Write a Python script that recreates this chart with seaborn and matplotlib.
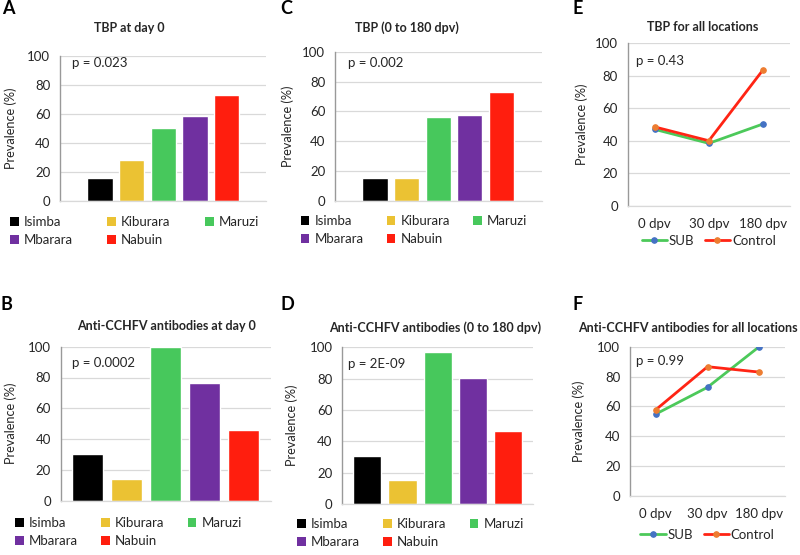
import matplotlib
matplotlib.use("Agg")
import matplotlib.pyplot as plt
from matplotlib.patches import Patch
import seaborn as sns
import pandas as pd

# =========================
# DATA
# =========================
LOCATIONS = ["Isimba", "Kiburara", "Maruzi", "Mbarara", "Nabuin"]
LOC_COLORS = ["#000000", "#EBC233", "#47C85C", "#7030A0", "#FF1E0E"]

tbp_day0 = [15.5, 28.3, 50.0, 58.5, 73.3]
tbp_0_180 = [15.5, 15.5, 56.3, 57.6, 73.3]
cchfv_day0 = [30.5, 14.1, 100.0, 76.2, 45.9]
cchfv_0_180 = [30.8, 15.3, 97.2, 80.2, 46.4]

TIMEPOINTS = ["0 dpv", "30 dpv", "180 dpv"]
tbp_sub = [47.0, 38.4, 50.3]
tbp_control = [48.5, 40.0, 83.6]
cchfv_sub = [54.9, 72.8, 100.0]
cchfv_control = [57.8, 86.6, 83.0]

Y_TICKS = [0, 20, 40, 60, 80, 100]

# =========================
# STYLE
# =========================
sns.set_style("white")
plt.rcParams["font.family"] = ["Lato", "DejaVu Sans"]
TXT = "#262626"
GRID = "#d9d9d9"
FS = 9.5

W, H = 800, 555
fig = plt.figure(figsize=(W / 100, H / 100), dpi=100)


def px_axes(left, right, top, bottom):
    return fig.add_axes([left / W, 1 - bottom / H, (right - left) / W, (bottom - top) / H])


def ftext(x, y, s, **kw):
    fig.text(x / W, 1 - y / H, s, color=TXT, **kw)


def style_axis(ax, ylabel_x, left):
    ax.set_ylim(0, 100)
    ax.set_yticks(Y_TICKS)
    ax.yaxis.grid(True, color=GRID, lw=0.9)
    ax.xaxis.grid(False)
    ax.set_axisbelow(True)
    for s in ["top", "right"]:
        ax.spines[s].set_visible(False)
    ax.spines["left"].set_color("#999999")
    ax.spines["left"].set_linewidth(1.0)
    ax.spines["bottom"].set_color(GRID)
    ax.spines["bottom"].set_linewidth(0.9)
    ax.tick_params(axis="y", length=0, pad=7, labelsize=FS, labelcolor=TXT)
    ax.tick_params(axis="x", length=0, labelsize=FS, labelcolor=TXT)
    ax.set_ylabel("Prevalence (%)", fontsize=9.2, color=TXT)
    bbox = ax.get_position()
    ax.yaxis.set_label_coords((ylabel_x - left) / (bbox.width * W), 0.5)


def bar_panel(box, values, xlim, ylabel_x):
    ax = px_axes(*box)
    sns.barplot(x=LOCATIONS, y=values, hue=LOCATIONS, palette=LOC_COLORS,
                legend=False, saturation=1, width=0.8, ax=ax)
    ax.set_xlim(*xlim)
    ax.set_xticks([])
    ax.set_xlabel("")
    style_axis(ax, ylabel_x, box[0])
    return ax


def bar_legend(x, y, colspace):
    order = [0, 3, 1, 4, 2]
    handles = [Patch(facecolor=LOC_COLORS[i], edgecolor="none") for i in order]
    labels = [LOCATIONS[i] for i in order]
    fig.legend(handles, labels, loc="upper left", bbox_to_anchor=(x / W, 1 - y / H),
               ncol=3, frameon=False, fontsize=FS, handlelength=0.65, handleheight=0.65,
               handletextpad=0.4, columnspacing=colspace, labelspacing=0.45,
               borderpad=0, borderaxespad=0, labelcolor=TXT)


def line_panel(box, sub, control, ylabel_x, legend_y):
    ax = px_axes(*box)
    df = pd.DataFrame({"time": TIMEPOINTS, "SUB": sub, "Control": control})
    sns.lineplot(data=df, x="time", y="SUB", sort=False, errorbar=None, ax=ax,
                 color="#4CC95A", lw=2.0, marker="o", markersize=4,
                 markerfacecolor="#4472C4", markeredgecolor="#4472C4", label="SUB")
    sns.lineplot(data=df, x="time", y="Control", sort=False, errorbar=None, ax=ax,
                 color="#FF2414", lw=2.0, marker="o", markersize=4,
                 markerfacecolor="#ED7D31", markeredgecolor="#ED7D31", label="Control")
    ax.set_xlim(-0.5, 2.5)
    ax.set_xlabel("")
    style_axis(ax, ylabel_x, box[0])
    ax.tick_params(axis="x", pad=9)
    ax.get_legend().remove()
    h, l = ax.get_legend_handles_labels()
    cx = (box[0] + box[1]) / 2
    fig.legend(h, l, loc="upper center", bbox_to_anchor=(cx / W, 1 - legend_y / H),
               ncol=2, frameon=False, fontsize=FS, handlelength=1.9,
               handletextpad=0.15, columnspacing=0.8, borderpad=0, borderaxespad=0,
               labelcolor=TXT)
    return ax


# =========================
# PANELS
# =========================
bar_panel((60, 266, 56, 200.7), tbp_day0, (-1.26, 5.24), 16.7)
bar_legend(10, 216, 2.6)

bar_panel((335, 541.7, 52, 200.7), tbp_0_180, (-1.27, 5.28), 294)
bar_legend(300.7, 215, 1.75)

line_panel((627.7, 790, 43.3, 205.7), tbp_sub, tbp_control, 588, 235)

bar_panel((60.7, 270.7, 346.7, 500.7), cchfv_day0, (-0.70, 4.70), 16.7)
bar_legend(15, 517, 1.75)

bar_panel((342.3, 533.3, 347.3, 504), cchfv_0_180, (-0.705, 4.71), 297.7)
bar_legend(297, 518, 1.75)

line_panel((630, 785, 346.7, 496), cchfv_sub, cchfv_control, 585, 529)

# titles
title_kw = dict(fontsize=9, fontweight="bold", ha="center", va="center")
ftext(129, 27.7, "TBP at day 0", **title_kw)
ftext(406.7, 27.7, "TBP (0 to 180 dpv)", **title_kw)
ftext(702.5, 27, "TBP for all locations", **title_kw)
ftext(166.7, 325.7, "Anti-CCHFV antibodies at day 0", **title_kw)
ftext(435, 327.7, "Anti-CCHFV antibodies (0 to 180 dpv)", **title_kw)
ftext(688, 327.7, "Anti-CCHFV antibodies for all locations", **title_kw)

# p-values
p_kw = dict(fontsize=FS, ha="left", va="center")
ftext(71.7, 63, "p = 0.023", **p_kw)
ftext(348, 63, "p = 0.002", **p_kw)
ftext(636, 60.7, "p = 0.43", **p_kw)
ftext(71.7, 363.3, "p = 0.0002", **p_kw)
ftext(348.3, 364.3, "p = 2E-09", **p_kw)
ftext(636, 361, "p = 0.99", **p_kw)

# panel letters
letter_kw = dict(fontsize=13, fontweight="bold", ha="left", va="center", color="black")
for lx, ly, s in [(2, 8.5, "A"), (280, 8.5, "C"), (572, 8.5, "E"),
                  (1, 305, "B"), (280, 305, "D"), (572, 305, "F")]:
    fig.text(lx / W, 1 - ly / H, s, **letter_kw)

fig.savefig("out.png", dpi=100)
